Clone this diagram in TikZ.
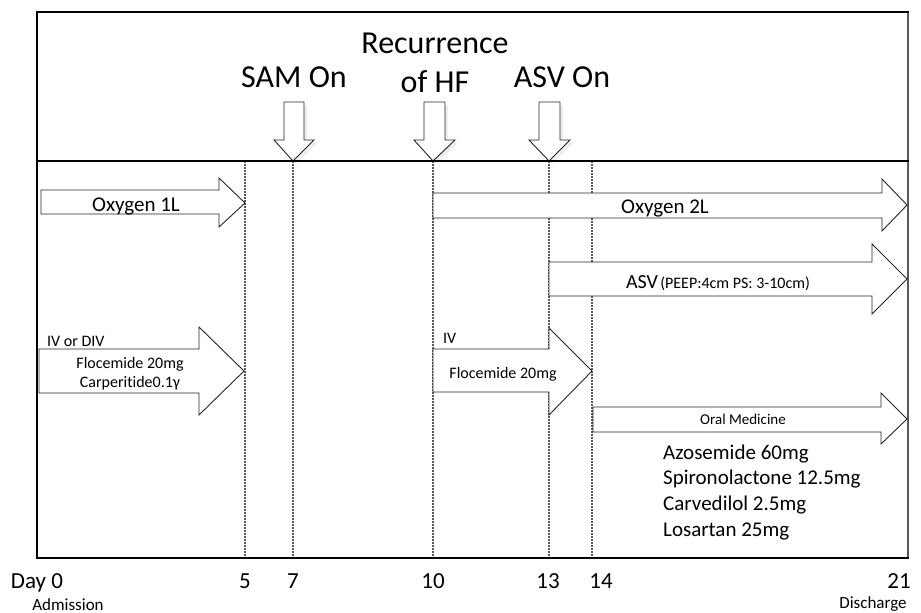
\documentclass[tikz,border=0pt]{standalone}
\usepackage{fontspec}
\setmainfont[Ligatures=NoCommon]{Carlito}
\begin{document}
\begin{tikzpicture}[x=1pt,y=-1pt,
  thickline/.style={line width=2.6pt, line cap=rect},
  thinframe/.style={line width=1.2pt, draw=black!65},
  blk/.style={draw=black!85, line width=0.9pt, fill=white, line join=miter},
  shad/.style={fill=black!7, draw=none},
  vdash/.style={draw=black!65, line width=1.1pt, dash pattern=on 2pt off 1pt},
  headtxt/.style={font=\fontsize{32}{38}\selectfont, inner sep=0pt, anchor=base},
  midtxt/.style={font=\fontsize{21}{25}\selectfont, inner sep=0pt, anchor=base},
  smalltxt/.style={font=\fontsize{16}{19}\selectfont, inner sep=0pt, anchor=base},
  daytxt/.style={font=\fontsize{23}{27}\selectfont, inner sep=0pt, anchor=base},
  subtxt/.style={font=\fontsize{17}{20}\selectfont, inner sep=0pt, anchor=base}]
\useasboundingbox (0,0) rectangle (921,613);

% frame coordinates
\coordinate (tl) at (37,12);
\coordinate (tr) at (908,12);
\coordinate (ml) at (37,161);
\coordinate (mr) at (908,161);
\coordinate (bl) at (37,558);
\coordinate (br) at (908,558);

% dashed day lines
\foreach \n/\x in {5/245, 7/293, 10/433, 13/549, 14/592} {
  \coordinate (t\n) at (\x,161);
  \coordinate (b\n) at (\x,558);
  \draw[vdash] (t\n) -- (b\n);
}

% frame
\draw[thinframe] (tr) -- (br);
\draw[thickline] (tl) -- (tr);
\draw[thickline] (bl) -- (br);
\draw[thickline] (tl) -- (bl);

% down arrows (with faint shadow)
\foreach \c/\s/\h/\tip in {294/10/20/t7, 434.5/10.5/20.5/t10, 549.5/10.5/20.5/t13} {
  \fill[shad] ([xshift=3pt,yshift=-3pt]\c-\s,102) -- ++(2*\s,0) -- ++(0,38) -- ++(\h-\s,0)
     -- ([xshift=3pt,yshift=-3pt]\tip) -- ([xshift=3pt,yshift=-3pt]\c-\h,140) -- ++(\h-\s,0) -- cycle;
  \draw[blk] (\c-\s,102) -- (\c+\s,102) -- (\c+\s,140) -- (\c+\h,140) -- (\tip)
     -- (\c-\h,140) -- (\c-\s,140) -- cycle;
}
\draw[thickline] (ml) -- (mr);

% top labels
\node[headtxt] (sam) at (294,87) {SAM On};
\node[headtxt] (rec1) at (435,53) {Recurrence};
\node[headtxt] (rec2) at (435,92) {of HF};
\node[headtxt] (asvon) at (562,87) {ASV On};

% Oxygen 1L
\draw[blk] (41,190) -- (219,190) -- (219,178) -- (245,203) -- (219,227) -- (219,214) -- (41,214) -- cycle;
\node[midtxt] (oxy1) at (136,211) {Oxygen 1L};

% Oxygen 2L
\draw[blk] (433,193) -- (882,193) -- (882,179) -- (907,205) -- (882,231) -- (882,218) -- (433,218) -- cycle;
\node[midtxt] (oxy2) at (665,213) {Oxygen 2L};

% ASV
\draw[blk] (549,262) -- (872,262) -- (872,244) -- (907,279) -- (872,314) -- (872,296) -- (549,296) -- cycle;
\node[inner sep=0pt, anchor=base] (asv) at (718,288) {{\fontsize{20}{24}\selectfont ASV} {\fontsize{16}{19}\selectfont (PEEP:4cm PS: 3-10cm)}};

% IV or DIV
\draw[blk] (39,349) -- (199,349) -- (199,327) -- (244,371) -- (199,415) -- (199,393) -- (39,393) -- cycle;
\node[smalltxt, anchor=base west] (ivdiv) at (47,346) {IV or DIV};
\node[smalltxt] (flo1) at (130,368) {Flocemide 20mg};
\node[smalltxt] (carp) at (130,387) {Carperitide0.1γ};

% IV
\draw[blk] (433,349) -- (549,349) -- (549,328) -- (592,371) -- (549,415) -- (549,392) -- (433,392) -- cycle;
\node[smalltxt, anchor=base west] (iv) at (443,343) {IV};
\node[smalltxt] (flo2) at (503,378) {Flocemide 20mg};

% Oral medicine
\draw[blk] (593,407) -- (881,407) -- (881,393) -- (907,419) -- (881,444) -- (881,432) -- (593,432) -- cycle;
\node[inner sep=0pt, anchor=base, font=\fontsize{15}{18}\selectfont] (oral) at (743,424) {Oral Medicine};

% medicine list
\node[midtxt, anchor=base west] (m1) at (663,459) {Azosemide 60mg};
\node[midtxt, anchor=base west] (m2) at (663,484) {Spironolactone 12.5mg};
\node[midtxt, anchor=base west] (m3) at (663,510) {Carvedilol 2.5mg};
\node[midtxt, anchor=base west] (m4) at (663,536) {Losartan 25mg};

% day labels
\node[daytxt] (day0) at (37,588) {Day 0};
\node[subtxt] (adm) at (68,610) {Admission};
\node[daytxt] (l5) at (245,588) {5};
\node[daytxt] (l7) at (293,588) {7};
\node[daytxt] (l10) at (433,588) {10};
\node[daytxt] (l13) at (548,588) {13};
\node[daytxt] (l14) at (601,588) {14};
\node[daytxt] (l21) at (899,588) {21};
\node[subtxt] (dis) at (873,608) {Discharge};
\end{tikzpicture}
\end{document}
